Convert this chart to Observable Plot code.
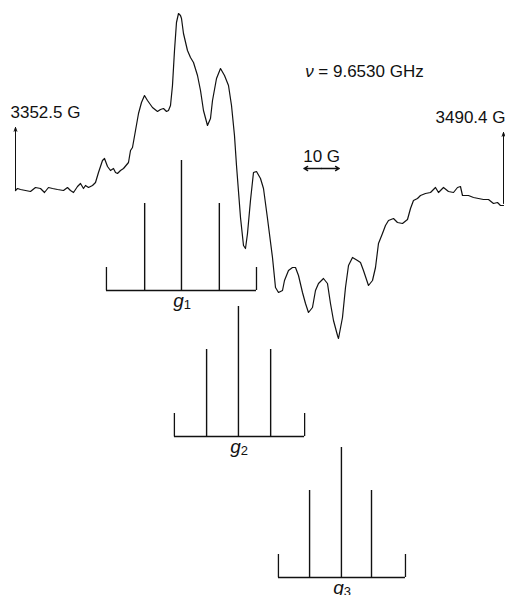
<!DOCTYPE html>
<html><head><meta charset="utf-8">
<script src="https://cdn.jsdelivr.net/npm/d3@7"></script>
<script src="https://cdn.jsdelivr.net/npm/@observablehq/plot@0.6"></script>
<style>html,body{margin:0;padding:0;background:#fff;}#chart svg{display:block;}</style>
</head><body><div id="chart"></div>
<script>
// Field axis (gauss) and sweep ends
const sweepFields = [3352.5, 3490.4];
// EPR trace: magnetic field (G) and signal (arb. units, baseline 0)
const traceField = [3352.50,3353.07,3353.91,3355.33,3356.74,3358.15,3359.56,3360.69,3361.82,3362.96,3364.37,3366.06,3367.19,3368.04,3368.89,3370.02,3370.87,3371.71,3372.28,3373.13,3374.26,3375.11,3375.95,3377.08,3377.65,3378.50,3379.34,3380.19,3380.76,3381.32,3382.17,3383.02,3384.43,3385.00,3385.56,3386.41,3387.26,3388.10,3388.95,3389.80,3391.21,3392.63,3393.47,3394.32,3395.17,3395.73,3396.30,3396.86,3397.43,3397.99,3398.56,3399.12,3399.41,3399.97,3401.10,3401.95,3402.80,3403.93,3404.78,3405.62,3406.75,3407.60,3408.17,3409.30,3410.43,3411.56,3412.69,3413.54,3414.38,3414.95,3416.08,3416.93,3417.49,3418.06,3418.90,3419.75,3420.60,3421.73,3422.58,3423.71,3425.12,3425.97,3426.82,3427.95,3428.51,3429.64,3430.77,3431.62,3432.47,3433.60,3434.45,3435.29,3436.42,3437.27,3438.12,3439.53,3440.66,3441.51,3442.36,3443.49,3443.77,3444.90,3445.75,3446.60,3447.73,3449.14,3449.99,3450.83,3452.25,3453.38,3454.23,3455.07,3456.20,3457.05,3457.90,3459.31,3460.44,3461.86,3463.27,3464.12,3464.96,3466.09,3466.94,3468.35,3469.77,3471.18,3472.03,3473.44,3474.85,3476.27,3477.40,3478.24,3478.81,3480.50,3481.92,3483.33,3484.74,3486.16,3487.57,3488.70,3489.55,3490.40];
const traceSignal = [0,2,1,0,-1,3,2,-2,3,2,1,0,3,0,-2,4,7,2,5,3,5,8,18,30,32,24,20,22,18,17,20,22,28,40,43,60,77,88,95,90,83,79,81,82,79,80,85,105,140,168,177,175,172,157,140,133,128,115,100,80,65,72,90,112,122,115,105,85,55,25,-27,-55,-58,-43,-10,18,19,12,2,-28,-67,-97,-102,-100,-90,-80,-77,-77,-85,-102,-113,-122,-117,-100,-93,-88,-93,-113,-130,-145,-148,-127,-97,-75,-67,-70,-72,-80,-95,-90,-77,-53,-43,-35,-30,-28,-32,-33,-29,-18,-10,-8,-5,-3,-2,3,-2,3,-1,-2,3,4,-5,-5,-7,-8,-9,-9,-13,-12,-15,-15];
// Sweep-end markers: arrow bottom and top (signal units)
const markerFrom = [0, -13];
const markerTo = [63, 58];
// Stick diagrams
const gNames = ["1", "2", "3"];
const gLines = [[3389.0, 3399.4, 3410.1], [3406.5, 3415.5, 3424.6], [3435.6, 3444.6, 3453.1]];
const gEnds = [[3378.2, 3420.6], [3397.4, 3434.2], [3426.8, 3462.7]];
const gBase = [-100, -246, -387];
const lineIntensity = [87, 130, 87];
const endIntensity = 23;
// Scale bar (10 G) and frequency
const scaleBar = [3434, 3444];
const frequencyGHz = 9.6530;

const trace = traceField.map((f, i) => ({field: f, signal: traceSignal[i]}));
const markers = sweepFields.map((f, i) => ({field: f, from: markerFrom[i], to: markerTo[i]}));
const diagrams = gNames.map((n, i) => ({sub: n, left: gEnds[i][0], right: gEnds[i][1], center: gLines[i][1], base: gBase[i]}));
const sticks = gLines.flatMap((ls, i) => ls.map((f, j) => ({field: f, base: gBase[i], top: gBase[i] + lineIntensity[j]})));
const ends = gEnds.flatMap((es, i) => es.map(f => ({field: f, base: gBase[i], top: gBase[i] + endIntensity})));
const barMid = (scaleBar[0] + scaleBar[1]) / 2;
const barHalves = scaleBar.map(f => ({from: barMid, to: f, y: 22}));

const ink = "#111";
const plot = Plot.plot({
  width: 505, height: 595, margin: 0,
  x: {domain: sweepFields, range: [15, 503], axis: null},
  y: {domain: [-405, 190], range: [595, 0], axis: null},
  style: {fontFamily: "'Liberation Sans', Arial, sans-serif", fontSize: "17px", background: "#fff", color: ink, overflow: "hidden"},
  marks: [
    Plot.line(trace, {x: "field", y: "signal", stroke: ink, strokeWidth: 1.2}),
    Plot.arrow(markers, {x1: "field", x2: "field", y1: "from", y2: "to", stroke: ink, strokeWidth: 1, headLength: 6, headAngle: 40}),
    Plot.text([markers[0]], {x: "field", y: 78, text: d => `${d.field.toFixed(1)} G`, textAnchor: "start", dx: -5, fill: ink}),
    Plot.text([markers[1]], {x: "field", y: 73, text: d => `${d.field.toFixed(1)} G`, textAnchor: "end", dx: 2, fill: ink}),
    Plot.text([frequencyGHz], {x: scaleBar[0] + 0.4, y: 119, text: () => "ν", textAnchor: "start", fontStyle: "italic", fill: ink}),
    Plot.text([frequencyGHz], {x: scaleBar[0] + 0.4, y: 119, text: d => `= ${d.toFixed(4)} GHz`, textAnchor: "start", dx: 13, fill: ink}),
    Plot.arrow(barHalves, {x1: "from", x2: "to", y1: "y", y2: "y", stroke: ink, strokeWidth: 1.3, headLength: 5, headAngle: 60}),
    Plot.text([barMid], {x: d => d, y: 34, text: () => `${scaleBar[1] - scaleBar[0]} G`, fill: ink}),
    Plot.ruleY(diagrams, {y: "base", x1: "left", x2: "right", stroke: ink, strokeWidth: 1.4}),
    Plot.ruleX(ends, {x: "field", y1: "base", y2: "top", stroke: ink, strokeWidth: 1.3}),
    Plot.ruleX(sticks, {x: "field", y1: "base", y2: "top", stroke: ink, strokeWidth: 1.4}),
    Plot.text(diagrams, {x: "center", y: d => d.base - 10, text: () => "g", fontStyle: "italic", fontSize: 19, dx: -3, fill: ink}),
    Plot.text(diagrams, {x: "center", y: d => d.base - 10, text: "sub", fontSize: 13, dx: 6, dy: 4, fill: ink})
  ]
});
document.getElementById("chart").append(plot);
</script>
</body></html>
